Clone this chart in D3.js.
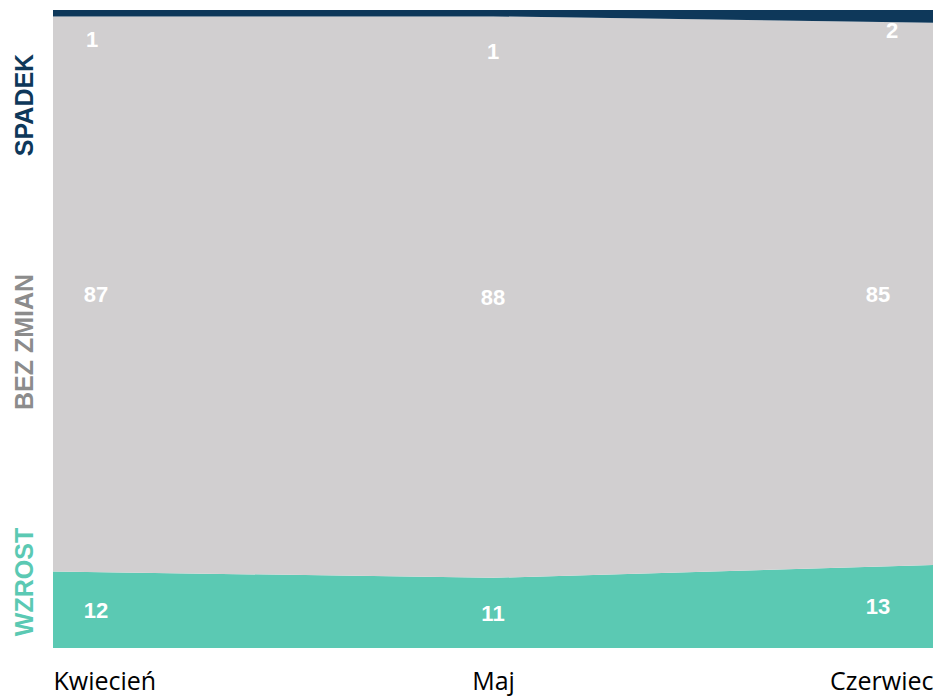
<!DOCTYPE html>
<html>
<head>
<meta charset="utf-8">
<script src="https://cdn.jsdelivr.net/npm/d3@7"></script>
<style>
  html, body { margin: 0; padding: 0; background: #ffffff; }
  svg { display: block; }
</style>
</head>
<body>
<svg id="chart" width="935" height="696"></svg>
<script>
// Months on the horizontal axis
const months = ["Kwiecień", "Maj", "Czerwiec"];
// Share of answers per month (percent), stacked bottom to top
const wzrost   = [12, 11, 13];
const bezZmian = [87, 88, 85];
const spadek   = [1, 1, 2];
// Series names shown on the left
const seriesNames = ["WZROST", "BEZ ZMIAN", "SPADEK"];
const seriesColors = ["#5bc9b3", "#d1cfd0", "#0e385a"];
const nameColors = ["#5bc9b3", "#8c8c8c", "#0e385a"];

const svg = d3.select("#chart");
const margin = { left: 53, right: 2, top: 10, bottom: 48 };
const W = 935, H = 696;

const rows = months.map((m, i) => ({
  month: m, WZROST: wzrost[i], "BEZ ZMIAN": bezZmian[i], SPADEK: spadek[i]
}));

const stack = d3.stack().keys(seriesNames);
const layers = stack(rows);

const x = d3.scalePoint().domain(months).range([margin.left, W - margin.right]);
const y = d3.scaleLinear().domain([0, 100]).range([H - margin.bottom, margin.top]);

const area = d3.area()
  .x(d => x(d.data.month))
  .y0(d => y(d[0]))
  .y1(d => y(d[1]));

svg.append("g").selectAll("path")
  .data(layers)
  .join("path")
  .attr("d", area)
  .attr("fill", (d, i) => seriesColors[i]);

// Value labels inside each band; the thin top band gets its labels below it
const labelDx = [43, 0, -55];
const topDx = [-4, 0, 14];
const topNudge = [23, 35, 7];
const labels = svg.append("g")
  .style("font-family", "'Liberation Sans', Arial, sans-serif")
  .attr("font-weight", "bold")
  .attr("font-size", 22)
  .attr("fill", "#ffffff")
  .attr("text-anchor", "middle");

layers.forEach((layer, li) => {
  layer.forEach((d, i) => {
    const top = li === seriesNames.length - 1;
    const cy = top ? y(d[0]) + topNudge[i] : (y(d[0]) + y(d[1])) / 2;
    labels.append("text")
      .attr("x", x(d.data.month) + labelDx[i] + (top ? topDx[i] : 0))
      .attr("y", cy)
      .attr("dy", "0.36em")
      .text(d.data[layer.key]);
  });
});

// Series names, rotated, beside their bands
const nameCenters = [582, 342, 105];
seriesNames.forEach((name, i) => {
  svg.append("text")
    .attr("transform", `translate(33,${nameCenters[i]}) rotate(-90)`)
    .attr("text-anchor", "middle")
    .style("font-family", "'Liberation Sans', Arial, sans-serif")
    .attr("font-weight", "bold")
    .attr("font-size", 25)
    .attr("fill", nameColors[i])
    .text(name);
});

// Month axis
const axis = d3.axisBottom(x).tickSize(0).tickPadding(0);
const gx = svg.append("g")
  .attr("transform", `translate(0,${H - margin.bottom})`)
  .call(axis);
gx.select(".domain").remove();
gx.selectAll("text")
  .style("font-family", "'Open Sans', sans-serif")
  .attr("font-size", 25)
  .attr("fill", "#000000")
  .attr("dy", null)
  .attr("y", 42)
  .attr("text-anchor", (d, i) => i === 0 ? "start" : (i === months.length - 1 ? "end" : "middle"));
</script>
</body>
</html>
